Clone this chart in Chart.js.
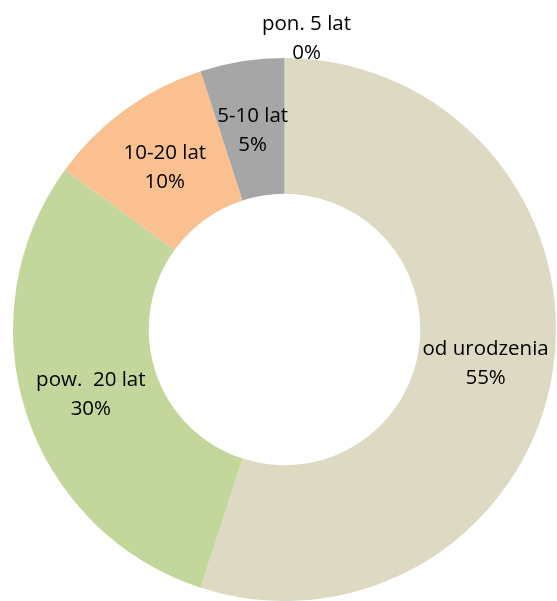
<!DOCTYPE html>
<html>
<head>
<meta charset="utf-8">
<script src="https://cdn.jsdelivr.net/npm/chart.js@4"></script>
<style>
  html, body { margin: 0; padding: 0; background: #ffffff; }
  #wrap { width: 557px; height: 601px; }
</style>
</head>
<body>
<div id="wrap"><canvas id="okres"></canvas></div>
<script>
const kategorie = ['od urodzenia', 'pow.  20 lat', '10-20 lat', '5-10 lat', 'pon. 5 lat'];
const procenty = [55, 30, 10, 5, 0];
const kolory = ['#DDD9C3', '#C3D69B', '#FAC090', '#A6A6A6', '#8EB4E3'];

// etykiety: nazwa + procent na srodku luku, dla 0% nad pierscieniem
const etykiety = {
    id: 'etykiety',
    afterDatasetsDraw(chart) {
        const ctx = chart.ctx;
        const meta = chart.getDatasetMeta(0);
        ctx.save();
        ctx.font = '20.5px "Open Sans"';
        ctx.fillStyle = '#000000';
        ctx.textAlign = 'center';
        ctx.textBaseline = 'middle';
        meta.data.forEach((arc, i) => {
            let x, y;
            if (procenty[i] === 0) {
                const p = arc.getProps(['x', 'y', 'startAngle', 'outerRadius']);
                const r = p.outerRadius + 22;
                x = p.x + Math.cos(p.startAngle) * r + 22;
                y = p.y + Math.sin(p.startAngle) * r;
            } else {
                const pos = arc.tooltipPosition();
                x = pos.x;
                y = pos.y;
            }
            ctx.fillText(kategorie[i], x, y - 12);
            ctx.fillText(procenty[i] + '%', x, y + 17);
        });
        ctx.restore();
    }
};

new Chart(document.getElementById('okres'), {
    type: 'doughnut',
    data: {
        labels: kategorie,
        datasets: [{
            data: procenty,
            backgroundColor: kolory,
            borderWidth: 0
        }]
    },
    options: {
        responsive: true,
        maintainAspectRatio: false,
        animation: false,
        cutout: '50%',
        layout: {
            padding: { top: 58, bottom: 0, left: 12, right: 0 }
        },
        plugins: {
            legend: { display: false },
            tooltip: { enabled: false }
        }
    },
    plugins: [etykiety]
});
</script>
</body>
</html>
